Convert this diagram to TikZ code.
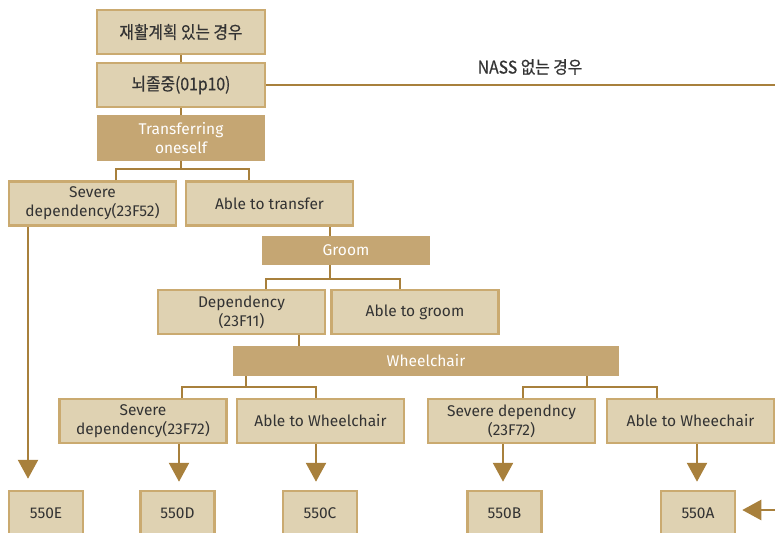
\documentclass[tikz,border=0pt]{standalone}
\usepackage{fontspec}
\setmainfont{Fira Sans}
\newfontfamily\krfont{Noto Sans CJK KR}[FakeStretch=0.9,FakeBold=0.6]
\usetikzlibrary{arrows.meta}
\definecolor{lfill}{RGB}{223,210,178}
\definecolor{bord}{RGB}{202,170,112}
\definecolor{dfill}{RGB}{197,166,115}
\definecolor{conn}{RGB}{168,128,60}
\definecolor{txt}{RGB}{51,51,51}
\tikzset{
  lbox/.style={draw=bord, fill=lfill, line width=2.5pt, text=txt, align=center, inner sep=0pt,
    font=\fontsize{15.5}{19}\selectfont, minimum width=167pt, minimum height=44pt},
  kbox/.style={lbox, font=\krfont\fontsize{17.5}{20}\selectfont, minimum width=168pt},
  dbox/.style={fill=dfill, text=white, align=center, inner sep=0pt,
    font=\fontsize{15.5}{19}\selectfont, minimum height=29pt},
  cbox/.style={lbox, minimum width=74pt, minimum height=44pt},
  cn/.style={draw=conn, line width=2.5pt},
  arr/.style={cn, -{Triangle[width=20pt,length=19pt]}, shorten >=8pt},
}
\begin{document}
\begin{tikzpicture}[x=1pt,y=-1pt]
\useasboundingbox (0,0) rectangle (775,532);
\clip (0,0) rectangle (775,532);
% nodes
\node[kbox] (plan) at (181,32) {재활계획 있는 경우};
\node[kbox] (stroke) at (181,85) {뇌졸중(01p10)};
\node[dbox, minimum width=168pt, minimum height=46pt] (transfer) at (181,138) {Transferring\\oneself};
\node[lbox] (sev1) at (92.5,203.5) {Severe\\dependency(23F52)};
\node[lbox] (abletr) at (269.5,203.5) {Able to transfer};
\node[dbox, minimum width=168pt] (groom) at (346,250.5) {Groom};
\node[lbox] (dep) at (241.5,312) {Dependency\\(23F11)};
\node[lbox] (abgroom) at (415,312) {Able to groom};
\node[dbox, minimum width=386pt, minimum height=30pt] (wheel) at (426,361) {Wheelchair};
\node[lbox] (sev2) at (143,421) {Severe\\dependency(23F72)};
\node[lbox] (abwh) at (320.5,421) {Able to Wheelchair};
\node[lbox] (sev3) at (511.5,421) {Severe dependncy\\(23F72)};
\node[lbox] (abwh2) at (690.5,421) {Able to Wheechair};
\node[cbox] (cE) at (46,513) {550E};
\node[cbox] (cD) at (177.5,513) {550D};
\node[cbox] (cC) at (320,513) {550C};
\node[cbox] (cB) at (504.5,513) {550B};
\node[cbox] (cA) at (698,513) {550A};
\node[text=txt, font=\krfont\fontsize{17.5}{20}\selectfont, inner sep=0pt] (nass) at (530,67) {NASS 없는 경우};
\coordinate (nassend) at (776,86);
\coordinate (inA) at (776,510);
% connectors
\draw[cn] (plan.south) -- (stroke.north);
\draw[cn] (stroke.east) -- (stroke.east -| nassend);
\draw[cn] (stroke.south) -- (transfer.north);
\draw[cn] (transfer.south) -- ([yshift=-8pt]transfer.south);
\draw[cn] ([xshift=23.5pt]sev1.north) |- ([yshift=-8pt]transfer.south) -| ([xshift=-20.5pt]abletr.north);
\draw[arr, shorten >=11pt] ([xshift=-64.5pt]sev1.south) -- ([xshift=-64.5pt]sev1.south |- cE.north);
\draw[cn] ([xshift=60.5pt]abletr.south) -- ([xshift=60.5pt]abletr.south |- groom.north);
\draw[cn] ([xshift=-16pt]groom.south) -- ([xshift=-16pt,yshift=-14pt]groom.south);
\draw[cn] ([xshift=24.5pt]dep.north) |- ([xshift=-16pt,yshift=-14pt]groom.south) -| ([xshift=-15pt]abgroom.north);
\draw[cn] ([xshift=57.5pt]dep.south) -- ([xshift=57.5pt]dep.south |- wheel.north);
\draw[cn] (wheel.south -| 246,0) -- ([yshift=-11pt]wheel.south -| 246,0);
\draw[cn] ([xshift=39pt]sev2.north) |- ([yshift=-11pt]wheel.south -| 246,0) -| ([xshift=-4.5pt]abwh.north);
\draw[cn] (wheel.south -| 587,0) -- ([yshift=-11pt]wheel.south -| 587,0);
\draw[cn] ([xshift=11.5pt]sev3.north) |- ([yshift=-11pt]wheel.south -| 587,0) -| ([xshift=-33.5pt]abwh2.north);
\draw[arr] ([xshift=36pt]sev2.south) -- ([xshift=36pt]sev2.south |- cD.north);
\draw[arr] ([xshift=-4.5pt]abwh.south) -- ([xshift=-4.5pt]abwh.south |- cC.north);
\draw[arr] ([xshift=-8.5pt]sev3.south) -- ([xshift=-8.5pt]sev3.south |- cB.north);
\draw[arr] ([xshift=6.5pt]abwh2.south) -- ([xshift=6.5pt]abwh2.south |- cA.north);
\draw[arr, shorten >=6pt] (inA) -- (inA -| cA.east);
\end{tikzpicture}
\end{document}
